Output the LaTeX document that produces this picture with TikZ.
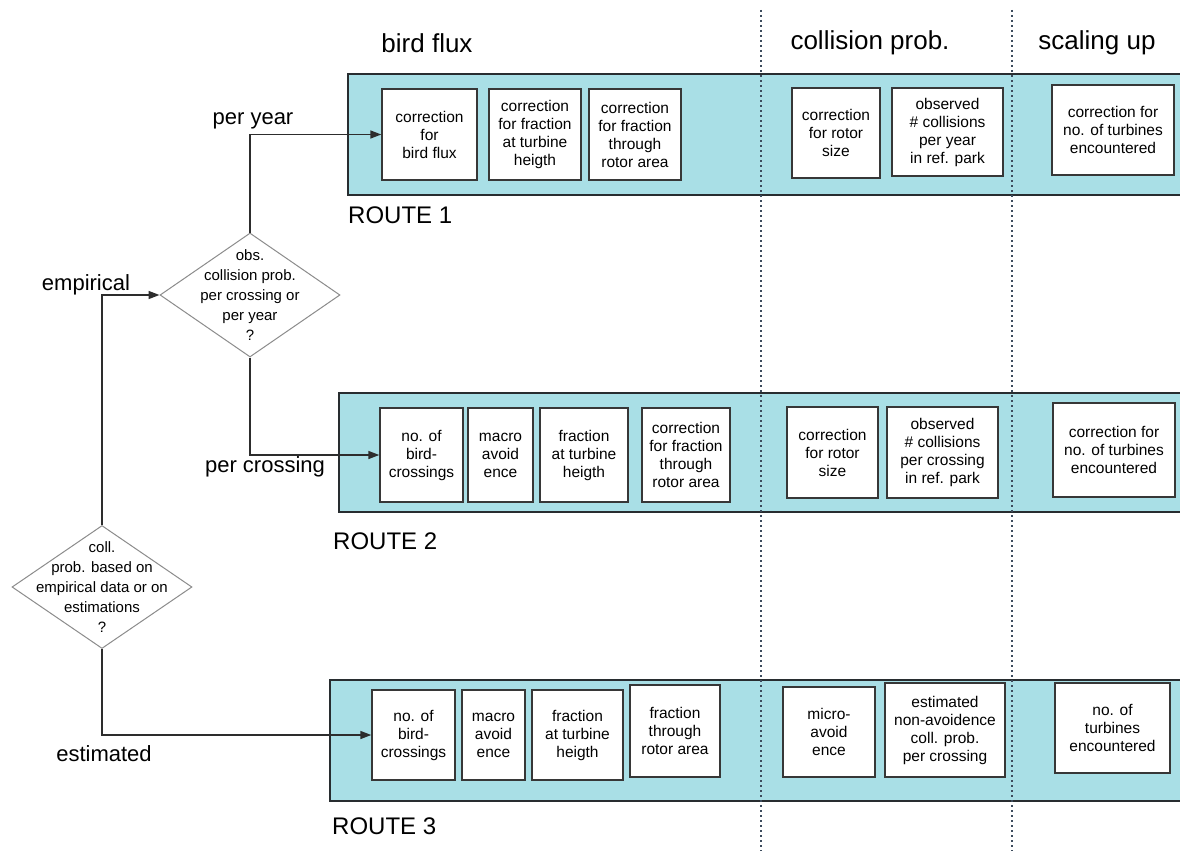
\documentclass[tikz,border=0pt]{standalone}
\usepackage{fontspec}
\setmainfont{Liberation Sans}
\usetikzlibrary{shapes.geometric,arrows.meta}
\definecolor{panelfill}{RGB}{169,223,230}
\definecolor{panelline}{RGB}{40,45,48}
\definecolor{boxline}{RGB}{55,55,55}
\definecolor{dotline}{RGB}{60,75,92}
\definecolor{connline}{RGB}{45,45,45}
\definecolor{dialine}{RGB}{140,140,140}
\tikzset{
  panel/.style={draw=panelline, line width=1.8pt, fill=panelfill},
  box/.style={draw=boxline, line width=1.4pt, fill=white, inner sep=0pt, align=center,
    font=\fontsize{15.5}{18}\selectfont},
  dia/.style={draw=dialine, line width=1pt, diamond, inner sep=0pt, fill=white},
  diatext/.style={align=center, font=\fontsize{15}{20}\selectfont, inner sep=0pt},
  lbl/.style={font=\fontsize{22}{24}\selectfont, inner sep=0pt},
  hdr/.style={font=\fontsize{26}{28}\selectfont, inner sep=0pt},
  route/.style={font=\fontsize{24}{26}\selectfont, inner sep=0pt, anchor=west},
  conn/.style={draw=connline, line width=1.5pt},
  arr/.style={conn, -{Triangle[length=11pt,width=8pt]}},
  sep/.style={draw=dotline, line width=2pt, dash pattern=on 2pt off 3pt},
}
\begin{document}
\begin{tikzpicture}[x=1pt,y=-1pt]
\clip (0,0) rectangle (1180,851);
\fill[white] (0,0) rectangle (1180,851);

% headers
\node[hdr] (h1) at (427,43) {bird flux};
\node[hdr] (h2) at (870,43) {collision prob.};
\node[hdr] (h3) at (1097,43) {scaling up};

% panels
\draw[panel] (348,74) rectangle (1190,195);
\draw[panel] (339,393) rectangle (1190,512);
\draw[panel] (330,680) rectangle (1190,801);

% separators
\coordinate (s1t) at (761,10); \coordinate (s1b) at (761,851);
\coordinate (s2t) at (1012,10); \coordinate (s2b) at (1012,851);
\draw[sep] (s1t) -- (s1b);
\draw[sep] (s2t) -- (s2b);

% route labels
\node[route] (rl1) at (348,215) {ROUTE 1};
\node[route] (rl2) at (333,541) {ROUTE 2};
\node[route] (rl3) at (332,826) {ROUTE 3};

% route 1 boxes
\node[box, minimum width=95pt, minimum height=91pt] (r1b1) at (429.5,134.5) {correction\\for\\bird flux};
\node[box, minimum width=92pt, minimum height=91pt] (r1b2) at (535,134.5) {correction\\for fraction\\at turbine\\heigth};
\node[box, minimum width=92pt, minimum height=91pt] (r1b3) at (635,134.5) {correction\\for fraction\\through\\rotor area};
\node[box, minimum width=88pt, minimum height=90pt] (r1c1) at (836,133) {correction\\for rotor\\size};
\node[box, minimum width=111pt, minimum height=88pt] (r1c2) at (947.5,132) {observed\\\# collisions\\per year\\in ref. park};
\node[box, minimum width=122pt, minimum height=90pt] (r1s1) at (1113,130) {correction for\\no. of turbines\\encountered};

% route 2 boxes
\node[box, minimum width=83pt, minimum height=94pt] (r2b1) at (421.5,455) {no. of\\bird-\\crossings};
\node[box, minimum width=65pt, minimum height=94pt] (r2b2) at (500.5,455) {macro\\avoid\\ence};
\node[box, minimum width=88pt, minimum height=94pt] (r2b3) at (584,455) {fraction\\at turbine\\heigth};
\node[box, minimum width=88pt, minimum height=94pt] (r2b4) at (686,455) {correction\\for fraction\\through\\rotor area};
\node[box, minimum width=91pt, minimum height=91pt] (r2c1) at (832.5,452.5) {correction\\for rotor\\size};
\node[box, minimum width=111pt, minimum height=91pt] (r2c2) at (942.5,452.5) {observed\\\# collisions\\per crossing\\in ref. park};
\node[box, minimum width=122pt, minimum height=94pt] (r2s1) at (1114,450) {correction for\\no. of turbines\\encountered};

% route 3 boxes
\node[box, minimum width=83pt, minimum height=90pt] (r3b1) at (413.5,735) {no. of\\bird-\\crossings};
\node[box, minimum width=63pt, minimum height=90pt] (r3b2) at (493.5,735) {macro\\avoid\\ence};
\node[box, minimum width=91pt, minimum height=90pt] (r3b3) at (577.5,735) {fraction\\at turbine\\heigth};
\node[box, minimum width=90pt, minimum height=92pt] (r3b4) at (675,731) {fraction\\through\\rotor area};
\node[box, minimum width=92pt, minimum height=90pt] (r3c1) at (829,732) {micro-\\avoid\\ence};
\node[box, minimum width=120pt, minimum height=94pt] (r3c2) at (945,730) {estimated\\non-avoidence\\coll. prob.\\per crossing};
\node[box, minimum width=115pt, minimum height=90pt] (r3s1) at (1112.5,728) {no. of\\turbines\\encountered};

% diamonds
\node[dia, minimum width=180pt, minimum height=124pt] (d1) at (250,295) {};
\node[diatext] (d1t) at (d1.center) {obs.\\collision prob.\\per crossing or\\per year\\?};
\node[dia, minimum width=180pt, minimum height=123pt] (d2) at (102,587) {};
\node[diatext] (d2t) at (d2.center) {coll.\\prob. based on\\empirical data or on\\estimations\\?};

% connectors
\draw[arr] (d2.north) |- (d1.west);
\draw[arr] (d1.north) |- (r1b1.west);
\draw[arr] (d1.south) |- (r2b1.west);
\draw[arr] (d2.south) |- (r3b1.west);

% connector labels
\node[lbl] (lemp) at (86,285) {empirical};
\node[lbl] (lpy) at (253,121) {per year};
\node[lbl] (lpc) at (265,467) {per crossing};
\node[lbl] (lest) at (104,754) {estimated};
\end{tikzpicture}
\end{document}
